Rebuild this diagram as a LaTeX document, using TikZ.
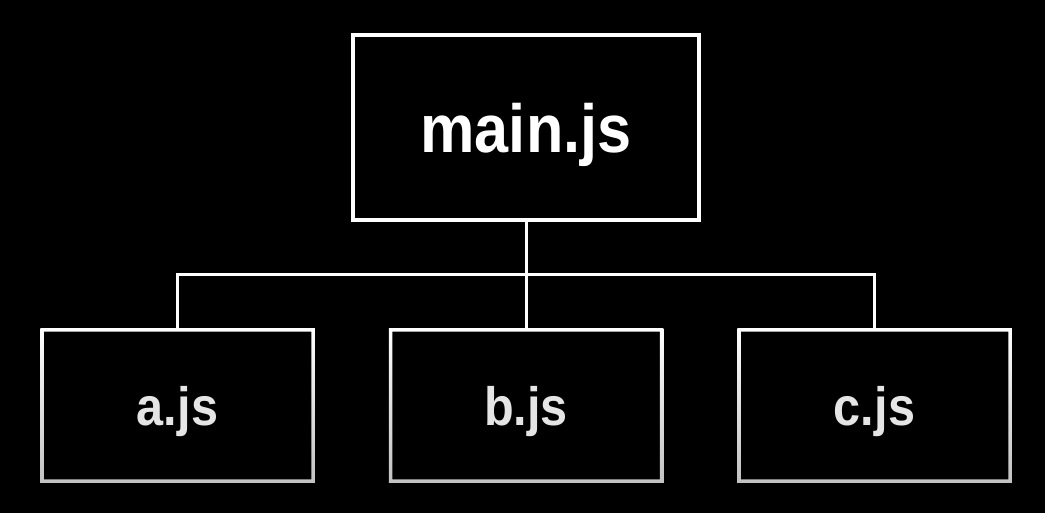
\documentclass[tikz,border=0pt]{standalone}
\usepackage{fontspec}
\setmainfont{Liberation Sans}
\newcommand{\narrowtext}[1]{\scalebox{0.9}[1]{#1}}
\tikzset{
  parent/.style={draw=white, line width=3.5pt, minimum width=346pt, minimum height=185pt,
    text=white, text height=51pt, text depth=0pt, font=\bfseries\fontsize{68}{76}\selectfont},
  child/.style={line width=3.5pt, minimum width=271pt, minimum height=151pt,
    text=white!90!black, text height=39pt, text depth=0pt, font=\bfseries\fontsize{54}{62}\selectfont},
  childframe/.style={top color=white, bottom color=white!76!black, even odd rule},
}
\begin{document}
\begin{tikzpicture}[x=1pt,y=-1pt]
      \fill[black] (0,0) rectangle (1045,513);
      \useasboundingbox (0,0) rectangle (1045,513);
      \draw
        (526,127.5) node[parent] (main){\narrowtext{main.js}}
        (177.5,405.5) node[child] (a){\narrowtext{a.js}}
        (526,405.5) node[child] (b){\narrowtext{b.js}}
        (874.5,405.5) node[child] (c){\narrowtext{c.js}};
      % shaded frames of the child boxes
      \foreach \n in {a,b,c}
        \shade[childframe]
          (\n.north west) rectangle (\n.south east)
          ([shift={(3.5pt,-3.5pt)}]\n.north west) rectangle ([shift={(-3.5pt,3.5pt)}]\n.south east);
      \coordinate (bus) at (526,275);
      \begin{scope}[white, line width=3pt]
        \draw (main.south) to (b.north);
        \draw (a.north) |- (bus) -| (c.north);
      \end{scope}
    \end{tikzpicture}
\end{document}
